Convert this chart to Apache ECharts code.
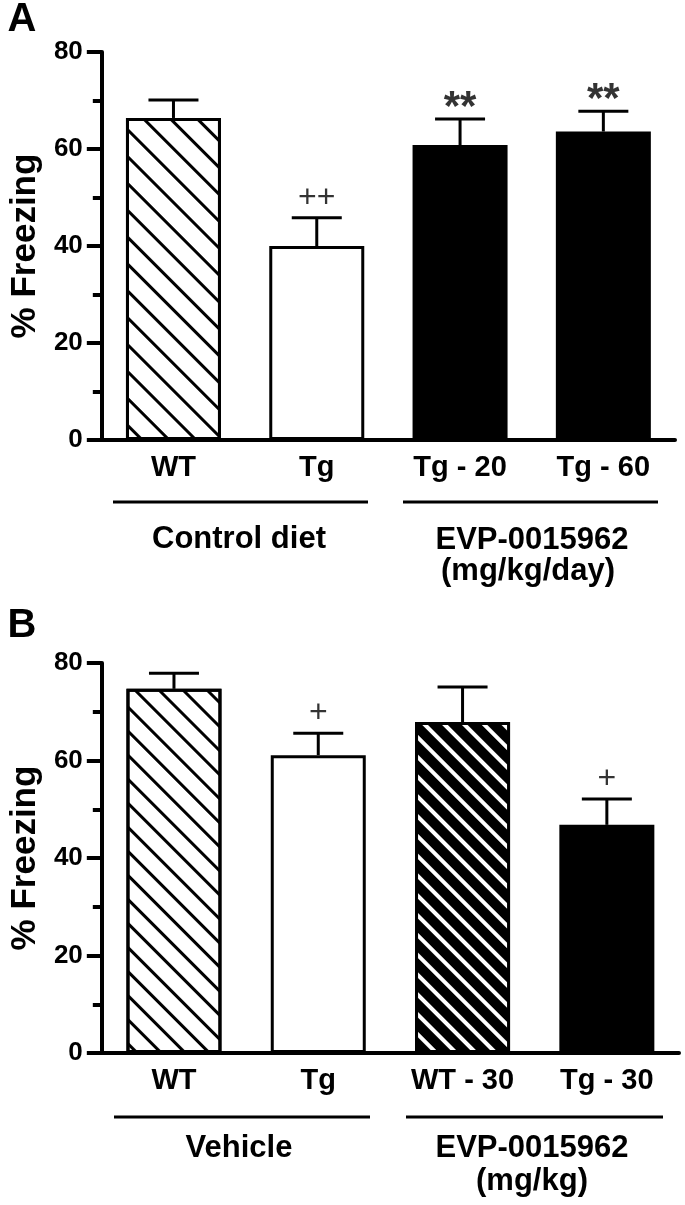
<!DOCTYPE html>
<html>
<head>
<meta charset="utf-8">
<script src="https://cdn.jsdelivr.net/npm/echarts@6/dist/echarts.min.js"></script>
<style>
  html, body { margin: 0; padding: 0; background: #fff; }
  #chart { width: 685px; height: 1205px; }
</style>
</head>
<body>
<div id="chart"></div>
<script>
// ---- Data ----
const catsA = ['WT', 'Tg', 'Tg - 20', 'Tg - 60'];
const meanA = [66.4, 40.0, 60.8, 63.6];
const errTopA = [70.1, 45.8, 66.2, 67.8];
const sigA = ['', '++', '**', '**'];

const catsB = ['WT', 'Tg', 'WT - 30', 'Tg - 30'];
const meanB = [74.7, 61.1, 67.9, 46.8];
const errTopB = [77.9, 65.6, 75.1, 52.1];
const sigB = ['', '+', '', '+'];

const yTicks = [0, 20, 40, 60, 80];

// ---- Styles ----
const FONT = "'Liberation Sans', Arial, Helvetica, sans-serif";
const hatch = (col, w, gap) => ({
  symbol: 'rect', symbolSize: 1, dashArrayX: [1, 0], dashArrayY: [w, gap],
  rotation: Math.PI / 4, color: col
});
const border = { borderColor: '#000', borderWidth: 3 };
const styleA = [
  Object.assign({ color: '#fff', decal: hatch('#000', 3, 16) }, border),
  Object.assign({ color: '#fff' }, border),
  Object.assign({ color: '#000' }, border),
  Object.assign({ color: '#000' }, border)
];
const styleB = [
  Object.assign({ color: '#fff', decal: hatch('#000', 3, 14) }, border),
  Object.assign({ color: '#fff' }, border),
  Object.assign({ color: '#000', decal: hatch('#fff', 4, 10) }, border),
  Object.assign({ color: '#000' }, border)
];

function yAxisCfg(gi) {
  return {
    type: 'value', gridIndex: gi, min: yTicks[0], max: yTicks[yTicks.length - 1], interval: 20,
    name: '% Freezing', nameLocation: 'middle', nameRotate: 90, nameGap: 58,
    nameTextStyle: { fontSize: 35, fontWeight: 'bold', color: '#000', fontFamily: FONT },
    axisLine: { show: true, lineStyle: { color: '#000', width: 4 } },
    axisTick: { show: true, length: 15, lineStyle: { color: '#000', width: 4 } },
    minorTick: { show: true, splitNumber: 2, length: 9, lineStyle: { color: '#000', width: 4 } },
    splitLine: { show: false },
    axisLabel: { fontSize: 26, fontWeight: 'bold', color: '#000', margin: 19, fontFamily: FONT }
  };
}
function xAxisCfg(gi, cats) {
  return {
    type: 'category', gridIndex: gi, data: cats,
    axisLine: { lineStyle: { color: '#000', width: 4 } },
    axisTick: { alignWithLabel: true, length: 13, lineStyle: { color: '#000', width: 4 } },
    axisLabel: { interval: 0, fontSize: 29, fontWeight: 'bold', color: '#000', margin: 13, fontFamily: FONT }
  };
}
function errSeries(gi, mean, top) {
  return {
    type: 'custom', xAxisIndex: gi, yAxisIndex: gi, z: 1,
    data: mean.map((m, i) => [i, m, top[i]]),
    renderItem: function (params, api) {
      const p0 = api.coord([api.value(0), api.value(1)]);
      const p1 = api.coord([api.value(0), api.value(2)]);
      const hw = 25;
      return {
        type: 'group',
        children: [
          { type: 'line', shape: { x1: p0[0], y1: p0[1], x2: p1[0], y2: p1[1] }, style: { stroke: '#000', lineWidth: 3 } },
          { type: 'line', shape: { x1: p1[0] - hw, y1: p1[1], x2: p1[0] + hw, y2: p1[1] }, style: { stroke: '#000', lineWidth: 3 } }
        ]
      };
    }
  };
}
function sigSeries(gi, top, sig) {
  return {
    type: 'scatter', xAxisIndex: gi, yAxisIndex: gi, symbolSize: 0, z: 5,
    data: top.map((t, i) => {
      const star = sig[i].indexOf('*') >= 0;
      return {
        value: [i, t],
        label: star
          ? { formatter: sig[i], fontSize: 42, fontWeight: 'bold', distance: -10 }
          : { formatter: sig[i], fontSize: 32, fontWeight: 'normal', distance: 4 }
      };
    }),
    label: { show: true, position: 'top', color: '#000', fontFamily: FONT },
    silent: true
  };
}
function barSeries(gi, mean, styles) {
  return {
    type: 'bar', xAxisIndex: gi, yAxisIndex: gi, barWidth: 95, z: 2,
    data: mean.map((v, i) => ({ value: v, itemStyle: styles[i] })),
    silent: true
  };
}

const txt = (x, y, s, size) => ({
  type: 'text', x: x, y: y,
  style: { text: s, fontSize: size, fontWeight: 'bold', fill: '#000', fontFamily: FONT, align: 'center', verticalAlign: 'middle' }
});
const hline = (x1, x2, y) => ({
  type: 'line', shape: { x1: x1, y1: y, x2: x2, y2: y }, style: { stroke: '#000', lineWidth: 3 }
});

const chart = echarts.init(document.getElementById('chart'), null, { renderer: 'canvas' });
chart.setOption({
  backgroundColor: '#fff',
  animation: false,
  grid: [
    { left: 96, right: 10, top: 52, height: 388 },
    { left: 97, right: 6, top: 663, height: 390 }
  ],
  xAxis: [xAxisCfg(0, catsA), xAxisCfg(1, catsB)],
  yAxis: [yAxisCfg(0), yAxisCfg(1)],
  series: [
    barSeries(0, meanA, styleA), errSeries(0, meanA, errTopA), sigSeries(0, errTopA, sigA),
    barSeries(1, meanB, styleB), errSeries(1, meanB, errTopB), sigSeries(1, errTopB, sigB)
  ],
  graphic: [
    txt(22, 20, 'A', 40),
    txt(22, 626, 'B', 40),
    hline(113, 368, 502), hline(403, 658, 502),
    txt(239, 539, 'Control diet', 31),
    txt(532, 540, 'EVP-0015962', 31),
    txt(528, 571, '(mg/kg/day)', 31),
    hline(114, 370, 1117), hline(406, 663, 1117),
    txt(239, 1148, 'Vehicle', 31),
    txt(532, 1148, 'EVP-0015962', 31),
    txt(532, 1181, '(mg/kg)', 31)
  ]
});
</script>
</body>
</html>
